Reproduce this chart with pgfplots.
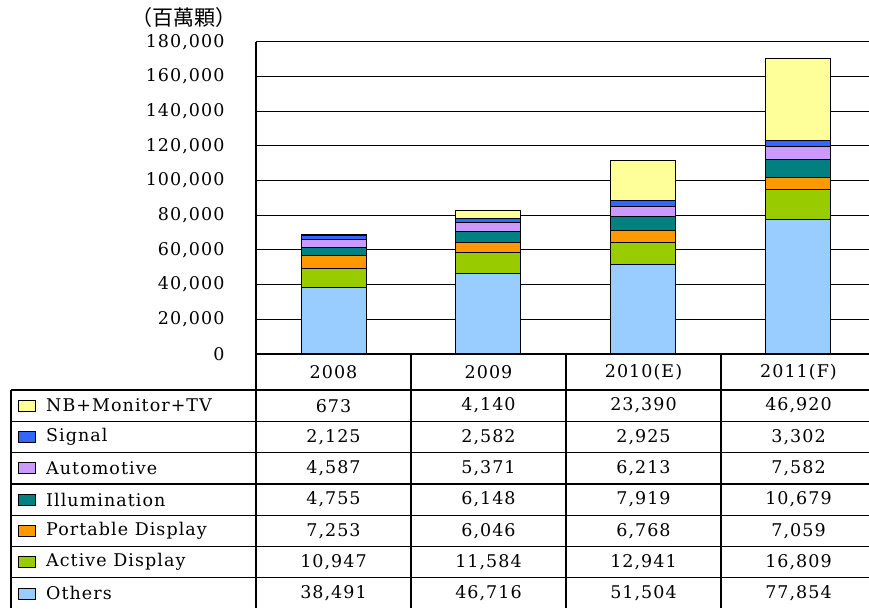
\documentclass[border=0pt]{standalone}
\usepackage{pgfplots}
\pgfplotsset{compat=1.18}
\usepackage{fontspec}
\setmainfont{DejaVu Serif}[LetterSpace=6]
\newfontfamily\cjk{Noto Sans CJK TC}
\definecolor{cNB}{HTML}{FFFF99}
\definecolor{cSig}{HTML}{3366FF}
\definecolor{cAuto}{HTML}{CC99FF}
\definecolor{cIll}{HTML}{008080}
\definecolor{cPort}{HTML}{FF9900}
\definecolor{cAct}{HTML}{99CC00}
\definecolor{cOth}{HTML}{99CCFF}
\newcommand{\tf}{\fontsize{17.5}{20}\selectfont}
\begin{document}
\begin{tikzpicture}[x=1pt,y=1pt]
\useasboundingbox (0,0) rectangle (869,608);
\begin{axis}[
  at={(256pt,254pt)}, anchor=south west,
  width=613pt, height=312pt, scale only axis,
  xmin=-0.5, xmax=3.455, ymin=0, ymax=180000,
  ybar stacked, bar width=65pt,
  axis lines*=left,
  axis line style={black, line width=1.2pt, -},
  xtick=\empty,
  ytick={0,20000,40000,60000,80000,100000,120000,140000,160000,180000},
  yticklabels={0,{20,000},{40,000},{60,000},{80,000},{100,000},{120,000},{140,000},{160,000},{180,000}},
  ymajorgrids, grid style={black, line width=1pt},
  major tick length=0pt,
  scaled y ticks=false,
  yticklabel style={font=\tf, anchor=east, xshift=-28pt},
  clip=false,
]
\addplot[fill=cOth, draw=black, line width=1pt] coordinates {(0,38491) (1,46716) (2,51504) (3,77854)};
\addplot[fill=cAct, draw=black, line width=1pt] coordinates {(0,10947) (1,11584) (2,12941) (3,16809)};
\addplot[fill=cPort, draw=black, line width=1pt] coordinates {(0,7253) (1,6046) (2,6768) (3,7059)};
\addplot[fill=cIll, draw=black, line width=1pt] coordinates {(0,4755) (1,6148) (2,7919) (3,10679)};
\addplot[fill=cAuto, draw=black, line width=1pt] coordinates {(0,4587) (1,5371) (2,6213) (3,7582)};
\addplot[fill=cSig, draw=black, line width=1pt] coordinates {(0,2125) (1,2582) (2,2925) (3,3302)};
\addplot[fill=cNB, draw=black, line width=1pt] coordinates {(0,673) (1,4140) (2,23390) (3,46920)};
\end{axis}
% unit label
\node[font=\cjk\fontsize{21}{24}\selectfont] at (184,590) {（百萬顆）};
% table lines
\draw[line width=1.2pt] (256,254) -- (256,0);
\foreach \xx in {411,566,721} \draw[line width=1.2pt] (\xx,254) -- (\xx,0);
\draw[line width=1.2pt] (11,218) -- (11,0);
\foreach \yy in {218,186.7,155.4,124.1,92.8,61.5,30.2} \draw[line width=1.2pt] (11,\yy) -- (869,\yy);
% header
\foreach \lab [count=\i from 0] in {2008,2009,2010(E),2011(F)}
  \node[font=\tf] at (333.5+155*\i,236) {\lab};
% rows
\foreach \col/\name/\a/\b/\c/\d [count=\r from 0] in {
  cNB/NB+Monitor+TV/673/{4,140}/{23,390}/{46,920},
  cSig/Signal/{2,125}/{2,582}/{2,925}/{3,302},
  cAuto/Automotive/{4,587}/{5,371}/{6,213}/{7,582},
  cIll/Illumination/{4,755}/{6,148}/{7,919}/{10,679},
  cPort/Portable Display/{7,253}/{6,046}/{6,768}/{7,059},
  cAct/Active Display/{10,947}/{11,584}/{12,941}/{16,809},
  cOth/Others/{38,491}/{46,716}/{51,504}/{77,854}}{
  \pgfmathsetmacro{\yc}{218-31.3*(\r+0.5)}
  \draw[fill=\col, draw=black, line width=0.9pt] (18.5,\yc-5.5) rectangle (35.5,\yc+5.5);
  \node[font=\tf, anchor=west, inner sep=0pt] at (46,\yc) {\name};
  \node[font=\tf] at (333.5,\yc) {\a};
  \node[font=\tf] at (488.5,\yc) {\b};
  \node[font=\tf] at (643.5,\yc) {\c};
  \node[font=\tf] at (798.5,\yc) {\d};
}
\end{tikzpicture}
\end{document}
